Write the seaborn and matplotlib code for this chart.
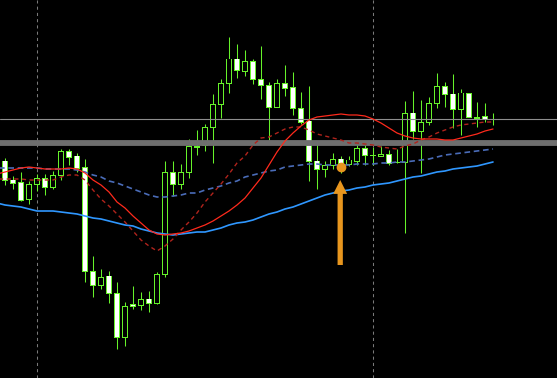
import numpy as np
import pandas as pd
import matplotlib
matplotlib.use("Agg")
import matplotlib.pyplot as plt
import seaborn as sns

# ---------------- data (prices) ----------------
open_ = [1.1039, 1.1020, 1.1018, 1.1001, 1.1016, 1.1022, 1.1013, 1.1025, 1.1049, 1.1044,
         1.1033, 1.0929, 1.0915, 1.0924, 1.0907, 1.0863, 1.0896, 1.0895, 1.0901, 1.0897,
         1.0926, 1.1028, 1.1016, 1.1028, 1.1053, 1.1055, 1.1073, 1.1096, 1.1117, 1.1141,
         1.1129, 1.1139, 1.1121, 1.1115, 1.1093, 1.1117, 1.1113, 1.1092, 1.1079, 1.1039,
         1.1031, 1.1035, 1.1041, 1.1036, 1.1039, 1.1052, 1.1045, 1.1044, 1.1046, 1.1038,
         1.1038, 1.1087, 1.1069, 1.1078, 1.1097, 1.1114, 1.1106, 1.1091, 1.1107, 1.1083,
         1.1084, 1.1081]
high = [1.1042, 1.1024, 1.1028, 1.1019, 1.1026, 1.1026, 1.1029, 1.1051, 1.1051, 1.1047,
        1.1041, 1.0944, 1.0931, 1.0929, 1.0918, 1.0898, 1.0914, 1.0908, 1.0909, 1.0928,
        1.1039, 1.1039, 1.1036, 1.1061, 1.1070, 1.1076, 1.1106, 1.1121, 1.1163, 1.1156,
        1.1150, 1.1141, 1.1154, 1.1118, 1.1121, 1.1135, 1.1128, 1.1108, 1.1114, 1.1057,
        1.1039, 1.1047, 1.1044, 1.1044, 1.1060, 1.1055, 1.1053, 1.1054, 1.1050, 1.1051,
        1.1099, 1.1109, 1.1100, 1.1103, 1.1127, 1.1118, 1.1126, 1.1111, 1.1107, 1.1098,
        1.1097, 1.1087]
low = [1.1015, 1.1011, 1.0999, 1.0996, 1.1009, 1.1005, 1.1011, 1.1020, 1.1035, 1.1028,
       1.0918, 1.0903, 1.0911, 1.0897, 1.0851, 1.0854, 1.0891, 1.0890, 1.0888, 1.0896,
       1.0923, 1.1004, 1.1011, 1.1022, 1.1045, 1.1049, 1.1037, 1.1082, 1.1107, 1.1122,
       1.1124, 1.1116, 1.1101, 1.1060, 1.1093, 1.1104, 1.1085, 1.1076, 1.1019, 1.1011,
       1.1023, 1.1031, 1.1027, 1.1034, 1.1035, 1.1035, 1.1035, 1.1044, 1.1035, 1.1037,
       1.0967, 1.1061, 1.1027, 1.1075, 1.1092, 1.1093, 1.1072, 1.1065, 1.1083, 1.1073,
       1.1078, 1.1075]
close = [1.1020, 1.1017, 1.1000, 1.1016, 1.1022, 1.1013, 1.1025, 1.1049, 1.1043, 1.1032,
         1.0929, 1.0915, 1.0923, 1.0907, 1.0863, 1.0894, 1.0894, 1.0901, 1.0897, 1.0926,
         1.1028, 1.1016, 1.1028, 1.1054, 1.1054, 1.1073, 1.1096, 1.1117, 1.1141, 1.1130,
         1.1139, 1.1121, 1.1115, 1.1093, 1.1117, 1.1112, 1.1092, 1.1078, 1.1039, 1.1031,
         1.1035, 1.1041, 1.1037, 1.1040, 1.1052, 1.1045, 1.1045, 1.1046, 1.1037, 1.1038,
         1.1087, 1.1069, 1.1078, 1.1097, 1.1114, 1.1106, 1.1091, 1.1107, 1.1083, 1.1082,
         1.1081, 1.1081]

# moving averages, bar -1 .. 61
ma_red = [1.1026, 1.1028, 1.1030, 1.1032, 1.1033, 1.1032, 1.1031, 1.1031, 1.1031, 1.1032, 1.1031,
          1.1027, 1.1020, 1.1015, 1.1008, 1.0998, 1.0992, 1.0984, 1.0977, 1.0970, 1.0966,
          1.0965, 1.0966, 1.0967, 1.0969, 1.0972, 1.0975, 1.0979, 1.0984, 1.0989, 1.0995,
          1.1002, 1.1012, 1.1022, 1.1035, 1.1048, 1.1059, 1.1067, 1.1074, 1.1080, 1.1083,
          1.1084, 1.1085, 1.1086, 1.1085, 1.1085, 1.1084, 1.1081, 1.1077, 1.1072, 1.1067,
          1.1064, 1.1062, 1.1061, 1.1061, 1.1061, 1.1060, 1.1060, 1.1062, 1.1064, 1.1066,
          1.1069, 1.1071]
ma_darkred = [1.1021, 1.1021, 1.1021, 1.1021, 1.1020, 1.1020, 1.1020, 1.1020, 1.1023, 1.1025, 1.1025,
              1.1020, 1.1010, 1.1001, 1.0994, 1.0986, 1.0978, 1.0969, 1.0960, 1.0954, 1.0949,
              1.0954, 1.0961, 1.0970, 1.0978, 1.0987, 1.0998, 1.1007, 1.1016, 1.1026, 1.1037,
              1.1044, 1.1055, 1.1062, 1.1063, 1.1067, 1.1071, 1.1073, 1.1073, 1.1070, 1.1066,
              1.1064, 1.1062, 1.1060, 1.1057, 1.1057, 1.1056, 1.1055, 1.1053, 1.1052, 1.1051,
              1.1054, 1.1056, 1.1060, 1.1063, 1.1067, 1.1070, 1.1073, 1.1075, 1.1076, 1.1077,
              1.1078, 1.1078]
ma_darkblue = [1.1032, 1.1032, 1.1032, 1.1032, 1.1032, 1.1032, 1.1031, 1.1031, 1.1031, 1.1031, 1.1030,
               1.1028, 1.1025, 1.1023, 1.1019, 1.1017, 1.1014, 1.1011, 1.1008, 1.1005, 1.1003,
               1.1003, 1.1004, 1.1005, 1.1007, 1.1007, 1.1010, 1.1012, 1.1014, 1.1017, 1.1019,
               1.1023, 1.1025, 1.1027, 1.1029, 1.1030, 1.1033, 1.1034, 1.1035, 1.1036, 1.1036,
               1.1035, 1.1035, 1.1035, 1.1035, 1.1036, 1.1036, 1.1036, 1.1037, 1.1037, 1.1038,
               1.1038, 1.1039, 1.1040, 1.1041, 1.1043, 1.1045, 1.1046, 1.1047, 1.1048, 1.1049,
               1.1050, 1.1051]
ma_lightblue = [1.0997, 1.0995, 1.0994, 1.0993, 1.0991, 1.0989, 1.0989, 1.0989, 1.0988, 1.0987, 1.0986,
                1.0984, 1.0982, 1.0981, 1.0979, 1.0977, 1.0975, 1.0974, 1.0971, 1.0969, 1.0967,
                1.0966, 1.0965, 1.0966, 1.0967, 1.0968, 1.0968, 1.0970, 1.0972, 1.0975, 1.0977,
                1.0978, 1.0980, 1.0983, 1.0986, 1.0988, 1.0991, 1.0993, 1.0996, 1.0999, 1.1002,
                1.1005, 1.1007, 1.1009, 1.1010, 1.1012, 1.1013, 1.1015, 1.1016, 1.1017, 1.1019,
                1.1021, 1.1023, 1.1024, 1.1026, 1.1028, 1.1029, 1.1031, 1.1032, 1.1033, 1.1034,
                1.1036, 1.1038]

level_line = 1.1081
level_band = 1.10575
day_separators = [4, 46]
signal_bar = 42
signal_price = 1.1033
arrow_start = 1.0935
arrow_end = 1.1020

# ---------------- drawing ----------------
sns.set_style("dark")
GREEN = "#66f22a"
BG = "#000000"
PX = 0.0001  # one pixel in price units (for the 1-px candle outline)

fig = plt.figure(figsize=(5.57, 3.78), dpi=100, facecolor=BG)
ax = fig.add_axes([0, 0, 1, 1])
ax.set_facecolor(BG)

df = pd.DataFrame({"open": open_, "high": high, "low": low, "close": close})
df["bar"] = np.arange(len(df))
df["bull"] = df["close"] > df["open"]
df["top"] = df[["open", "close"]].max(axis=1)
df["bot"] = df[["open", "close"]].min(axis=1)

# day separators
for b in day_separators:
    ax.axvline(b, color="#7a7a7a", lw=0.75, dashes=(3, 3), zorder=1)

# wicks
ax.vlines(df["bar"], df["low"], df["high"], color=GREEN, lw=0.75, zorder=2)
# bodies: green outer block with inner fill (white = falling, black = rising)
ax.bar(df["bar"], df["top"] - df["bot"] + PX, bottom=df["bot"] - PX / 2, width=0.66,
       color=GREEN, linewidth=0, zorder=3)
inner_h = np.clip(df["top"] - df["bot"] - PX, 0, None)
fills = np.where(df["bull"], BG, "#ffffff")
ax.bar(df["bar"], inner_h, bottom=df["bot"] + PX / 2, width=0.40,
       color=fills, linewidth=0, zorder=3.5)

# horizontal levels
ax.axhline(level_line, color="#8e8e8e", lw=0.8, zorder=4)
ax.axhline(level_band, color="#6e6e6e", lw=4.2, zorder=4)

# moving averages
ma_bars = np.arange(-1, len(df))
sns.lineplot(x=ma_bars, y=ma_lightblue, ax=ax, color="#2f97ff", lw=1.2, zorder=5)
sns.lineplot(x=ma_bars, y=ma_darkblue, ax=ax, color="#4a6cb8", lw=1.2, zorder=5).lines[-1].set_dashes((3.4, 2.2))
sns.lineplot(x=ma_bars, y=ma_darkred, ax=ax, color="#b0231c", lw=1.0, zorder=5).lines[-1].set_dashes((3.0, 2.5))
sns.lineplot(x=ma_bars, y=ma_red, ax=ax, color="#ff2a1c", lw=0.9, zorder=6)

# signal marker and arrow
ORANGE = "#e8961e"
ax.plot([signal_bar], [signal_price], marker="o", ms=6, color=ORANGE, mec=ORANGE, zorder=8)
ax.annotate("", xy=(signal_bar - 0.1, arrow_end), xytext=(signal_bar - 0.1, arrow_start),
            arrowprops=dict(arrowstyle="simple,head_length=10,head_width=10,tail_width=3.8",
                            mutation_scale=1, color=ORANGE, shrinkA=0, shrinkB=0, lw=0),
            zorder=8)

ax.set_xlim(-0.625, 69.0)
ax.set_ylim(1.1200 - 378 / 10000, 1.1200)
ax.set_xticks([])
ax.set_yticks([])
ax.grid(False)
for s in ax.spines.values():
    s.set_visible(False)
ax.set_xlabel("")
ax.set_ylabel("")

fig.savefig("out.png", dpi=100, facecolor=BG)
